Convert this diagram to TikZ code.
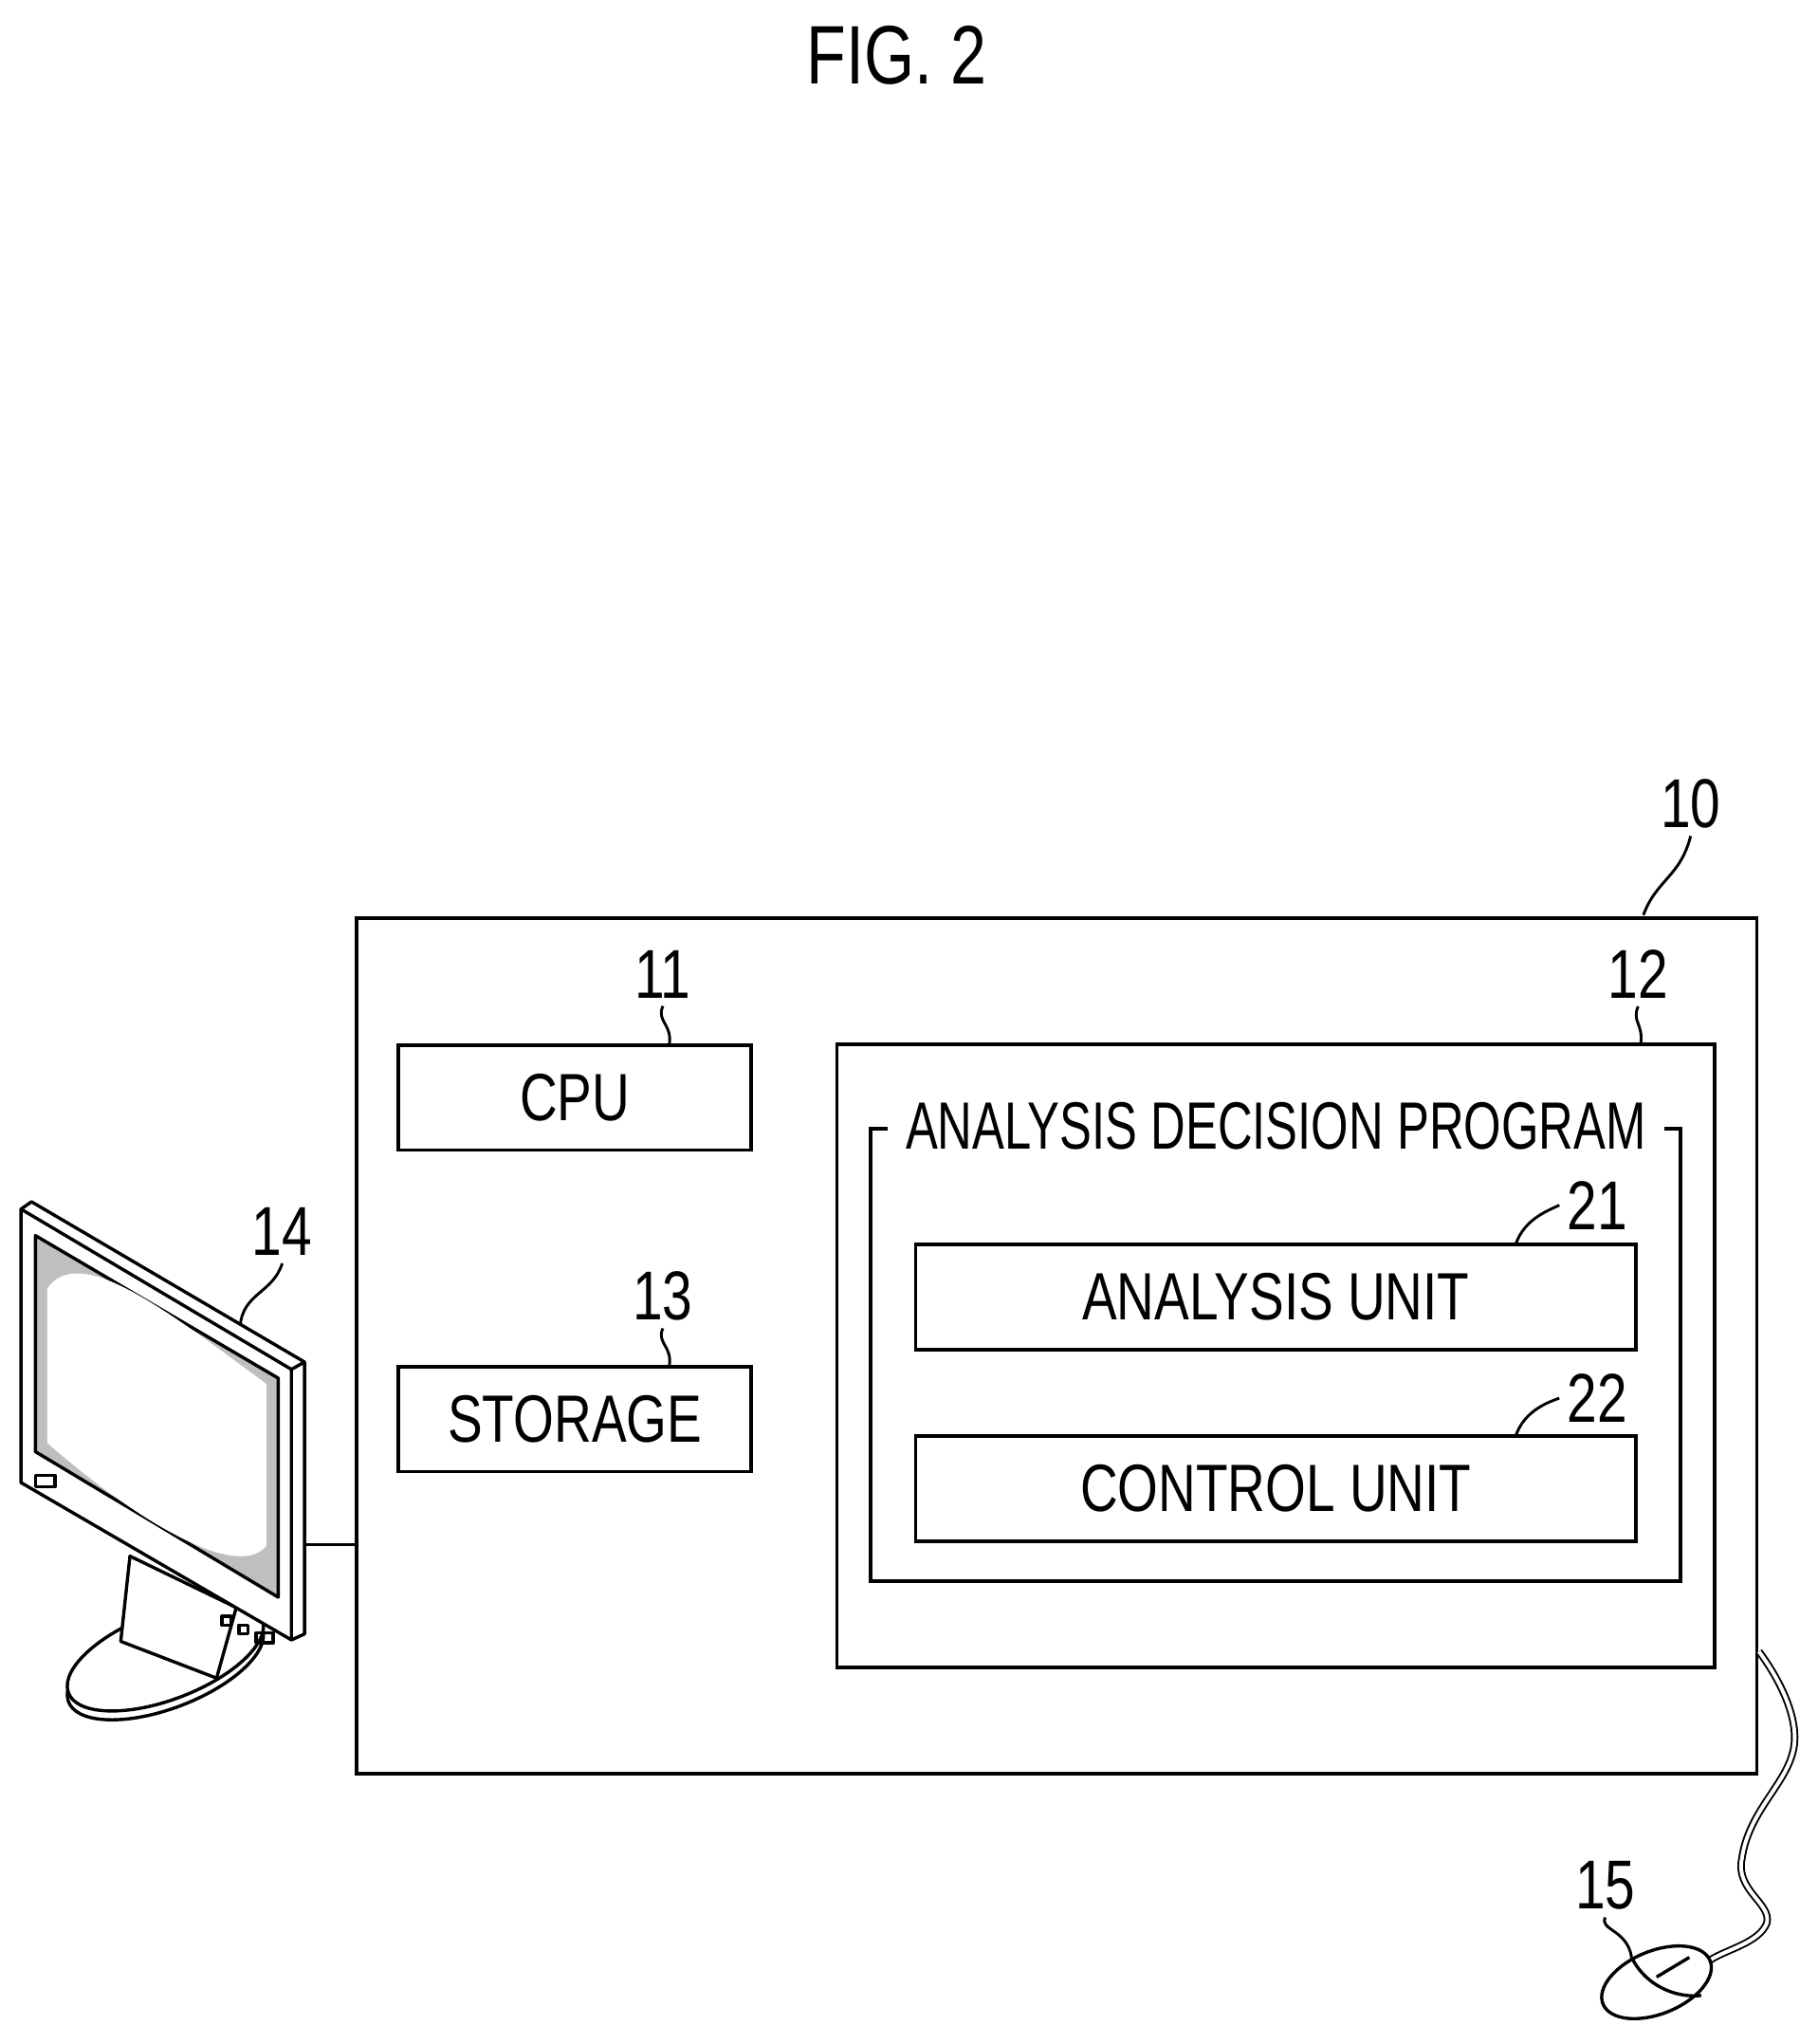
\documentclass[tikz,border=0pt]{standalone}
\usepackage{fontspec}
\setmainfont{Liberation Sans}
\usetikzlibrary{positioning}
\newcommand{\lbl}[1]{\scalebox{0.78}[1]{#1}}
\tikzset{
  box/.style={draw, line width=1.6pt, inner sep=0pt},
  txt/.style={font=\fontsize{29}{31}\selectfont},
  num/.style={font=\fontsize{30}{32}\selectfont},
  lead/.style={line width=1.2pt},
  dev/.style={line width=1.4pt, line join=round}
}
\begin{document}
\begin{tikzpicture}
  [x=0.02cm, y=-0.02cm]
  \useasboundingbox (0,0) rectangle (1385,1557);
  % title
  \node[font=\fontsize{36}{38}\selectfont] (fig) at (683,42) {\lbl{FIG. 2}};
  % computer 10
  \node[box, minimum width=21.34cm, minimum height=13.04cm] (sys) at (805,1025) {};
  \node[box, minimum width=5.38cm, minimum height=1.6cm, txt] (cpu) at (438,836) {\lbl{CPU}};
  \node[box, minimum width=5.38cm, minimum height=1.6cm, txt] (sto) at (438,1081) {\lbl{STORAGE}};
  \node[box, minimum width=13.38cm, minimum height=9.5cm] (mem) at (972,1033) {};
  \node[box, minimum width=12.34cm, minimum height=6.9cm] (prog) at (972,1032) {};
  \node[txt, fill=white, inner xsep=8pt, inner ysep=2pt] (ptitle) at (prog.north) {\scalebox{0.72}[1]{ANALYSIS DECISION PROGRAM}};
  \node[box, minimum width=10.98cm, minimum height=1.6cm, txt] (ana) at (972,988) {\lbl{ANALYSIS UNIT}};
  \node[box, minimum width=10.98cm, minimum height=1.6cm, txt] (ctl) at (972,1134) {\lbl{CONTROL UNIT}};
  % reference numerals
  \node[num] (n10) at (1288,612) {\lbl{10}};
  \node[num] (n11) at (505,742) {\lbl{11}};
  \node[num] (n12) at (1248,742) {\lbl{12}};
  \node[num] (n13) at (505,987) {\lbl{13}};
  \node[num] (n14) at (215,938) {\lbl{14}};
  \node[num] (n15) at (1223,1436) {\lbl{15}};
  \node[num] (n21) at (1217,918) {\lbl{21}};
  \node[num] (n22) at (1217,1065) {\lbl{22}};
  % leaders
  \draw[lead] (1252,697) .. controls (1262,670) and (1280,668) .. (n10.south);
  \draw[lead] (510,795) .. controls (512,780) and (500,778) .. (n11.south);
  \draw[lead] (1250,795) .. controls (1252,780) and (1243,778) .. (n12.south);
  \draw[lead] (510,1040) .. controls (512,1025) and (500,1023) .. (n13.south);
  \draw[lead] (1155,947) .. controls (1162,928) and (1180,922) .. (n21.west);
  \draw[lead] (1155,1093) .. controls (1162,1074) and (1180,1068) .. (n22.west);
  \draw[lead] (183,1010) .. controls (185,985) and (208,985) .. (n14.south);
  \draw[lead] (n15.south) .. controls (1218,1470) and (1240,1470) .. (1243,1491);
  % monitor 14
  \begin{scope}[shift={(0,-110.5)}, yscale=1.12]
    \draw[dev, fill=white] (126,1231) ellipse [x radius=78, y radius=30, rotate=18];
    \draw[dev, fill=white] (126,1225) ellipse [x radius=78, y radius=30, rotate=18];
    \draw[dev, fill=white] (99,1157) -- (92,1215) -- (165,1240) -- (180,1192) -- cycle;
    \draw[dev, fill=white] (16,921) -- (24,916) -- (232,1025) -- (232,1210) -- (222,1214) -- (16,1107) -- cycle;
    \draw[dev] (16,921) -- (222,1030) -- (222,1214);
    \draw[dev] (222,1030) -- (232,1025);
    \draw[dev, fill=black!25] (27,939) -- (212,1036) -- (212,1185) -- (27,1086) -- cycle;
    \fill[white] (36,975) .. controls (60,945) and (120,985) .. (203,1040)
      -- (203,1150) .. controls (180,1175) and (100,1130) .. (36,1080) -- cycle;
    \draw[dev] (27,1102) rectangle (42,1110);
    \draw[dev] (169,1198) rectangle (176,1204);
    \draw[dev] (182,1204) rectangle (189,1210);
    \draw[dev] (195,1209) rectangle (208,1216);
    \coordinate (mon) at (232,1149);
  \end{scope}
  \draw[lead] (mon) -- (mon -| sys.west);
  % mouse 15
  \coordinate (cab) at (1340,1258);
  \draw[line width=0.8pt, double, double distance=1.6pt]
    (cab) .. controls (1355,1278) and (1372,1310) .. (1366,1334)
    .. controls (1360,1360) and (1332,1380) .. (1327,1416)
    .. controls (1322,1440) and (1350,1450) .. (1346,1465)
    .. controls (1340,1480) and (1315,1485) .. (1303,1493);
  \draw[dev, fill=white] (1262,1510) ellipse [x radius=44, y radius=24, rotate=22];
  \draw[dev] (1243,1491) .. controls (1255,1515) and (1280,1522) .. (1296,1520);
  \draw[dev] (1262,1506) -- (1287,1491);
\end{tikzpicture}
\end{document}
